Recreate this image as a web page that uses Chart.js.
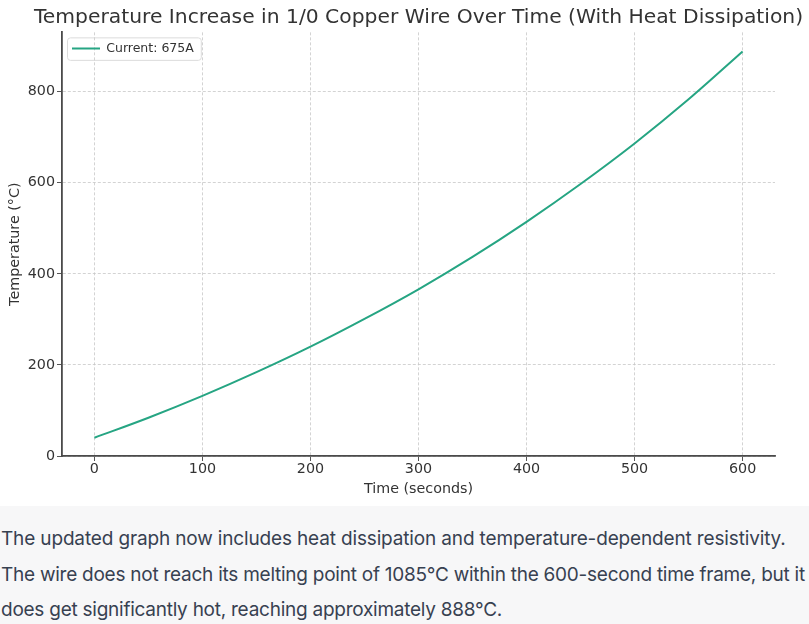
<!DOCTYPE html>
<html>
<head>
<meta charset="utf-8">
<script src="https://cdn.jsdelivr.net/npm/chart.js@4"></script>
<style>
  html, body { margin: 0; padding: 0; background: #fff; }
  .plot { width: 809px; height: 506px; background: #fff; }
  .note {
    width: 809px; height: 118px; box-sizing: border-box;
    background: #f7f7f8; color: #374151;
    font-family: Inter, "Noto Sans", sans-serif; font-size: 19px;
    line-height: 35.5px;
    padding: 15px 0 0 1px; white-space: nowrap; overflow: hidden;
  }
  .note span { display: block; }
</style>
</head>
<body>
<div class="plot"><canvas id="chart" width="809" height="506"></canvas></div>
<div class="note">
  <span style="letter-spacing:-0.15px">The updated graph now includes heat dissipation and temperature-dependent resistivity.</span>
  <span style="letter-spacing:-0.25px">The wire does not reach its melting point of 1085°C within the 600-second time frame, but it</span>
  <span style="letter-spacing:-0.25px">does get significantly hot, reaching approximately 888°C.</span>
</div>
<script>
const timeSeconds = [0, 50, 100, 150, 200, 250, 300, 350, 400, 450, 500, 550, 600];
const temperatureC = [40, 84, 132, 184, 240, 301, 366, 437, 514, 597, 686, 783, 888];
const xTicks = [0, 100, 200, 300, 400, 500, 600];
const yTicks = [0, 200, 400, 600, 800];
const seriesLabel = 'Current: 675A';

const ink = '#333333';
const gridColor = '#c8c8c8';
const lineColor = '#26a583';

// legend inside the plot (top left) with a white framed box, title centred on the plot
const matplotlibLook = {
  id: 'matplotlibLook',
  afterLayout(chart) {
    const area = chart.chartArea;
    const lg = chart.legend;
    if (lg) {
      lg.left = area.left; lg.top = area.top;
      lg.right = area.right; lg.bottom = area.bottom;
      lg.width = area.right - area.left; lg.height = area.bottom - area.top;
    }
    const tb = chart.titleBlock;
    if (tb) {
      tb.left = area.left - 45; tb.right = area.right + 45;
      tb.width = tb.right - tb.left;
    }
  },
  beforeDraw(chart) {
    const hit = chart.legend && chart.legend.legendHitBoxes[0];
    if (!hit) return;
    const ctx = chart.ctx;
    const x = hit.left - 5, y = hit.top - 5, w = hit.width + 12, h = hit.height + 10;
    ctx.save();
    ctx.fillStyle = 'rgba(255,255,255,0.85)';
    ctx.strokeStyle = '#dcdcdc';
    ctx.lineWidth = 1;
    ctx.beginPath();
    ctx.roundRect(x + 0.5, y + 0.5, w, h, 3);
    ctx.fill();
    ctx.stroke();
    ctx.restore();
  }
};

const tickFont = { family: 'DejaVu Sans', size: 14.3 };

new Chart(document.getElementById('chart').getContext('2d'), {
  type: 'line',
  data: {
    datasets: [{
      label: seriesLabel,
      data: timeSeconds.map((t, i) => ({ x: t, y: temperatureC[i] })),
      borderColor: lineColor,
      backgroundColor: lineColor,
      borderWidth: 2,
      pointRadius: 0,
      cubicInterpolationMode: 'monotone',
      pointStyle: 'line'
    }]
  },
  options: {
    responsive: false,
    animation: false,
    devicePixelRatio: 1,
    layout: { padding: { left: 0, right: 34, top: 0, bottom: 0 } },
    plugins: {
      title: {
        display: true,
        fullSize: false,
        text: 'Temperature Increase in 1/0 Copper Wire Over Time (With Heat Dissipation)',
        color: ink,
        font: { family: 'DejaVu Sans', size: 20.3, weight: 'normal' },
        padding: { top: 6, bottom: 2 }
      },
      legend: {
        position: 'chartArea',
        align: 'start',
        labels: {
          color: ink,
          font: { family: 'DejaVu Sans', size: 12.5 },
          usePointStyle: true,
          pointStyleWidth: 28,
          padding: 10
        }
      },
      tooltip: { enabled: false }
    },
    scales: {
      x: {
        type: 'linear',
        min: -30,
        max: 630,
        afterBuildTicks: s => { s.ticks = xTicks.map(v => ({ value: v })); },
        afterFit: s => { s.height = 50; },
        ticks: { color: ink, font: tickFont, padding: 0, maxRotation: 0 },
        grid: { color: gridColor, lineWidth: 0.8, tickLength: 5, tickColor: '#555', tickWidth: 1 },
        border: { color: '#4a4a4a', width: 1.8, dash: [3, 2] },
        title: {
          display: true, text: 'Time (seconds)', color: ink,
          font: { family: 'DejaVu Sans', size: 14.3 }, padding: { top: 0, bottom: 8 }
        }
      },
      y: {
        min: 0,
        max: 930,
        afterBuildTicks: s => { s.ticks = yTicks.map(v => ({ value: v })); },
        afterFit: s => { s.width = 62; },
        ticks: { color: ink, font: tickFont, padding: 2 },
        grid: { color: gridColor, lineWidth: 0.8, tickLength: 5, tickColor: '#555', tickWidth: 1 },
        border: { color: '#4a4a4a', width: 1.8, dash: [3, 2] },
        title: {
          display: true, text: 'Temperature (°C)', color: ink,
          font: { family: 'DejaVu Sans', size: 14.3 }, padding: { top: 7, bottom: 0 }
        }
      }
    }
  },
  plugins: [matplotlibLook]
});
</script>
</body>
</html>
